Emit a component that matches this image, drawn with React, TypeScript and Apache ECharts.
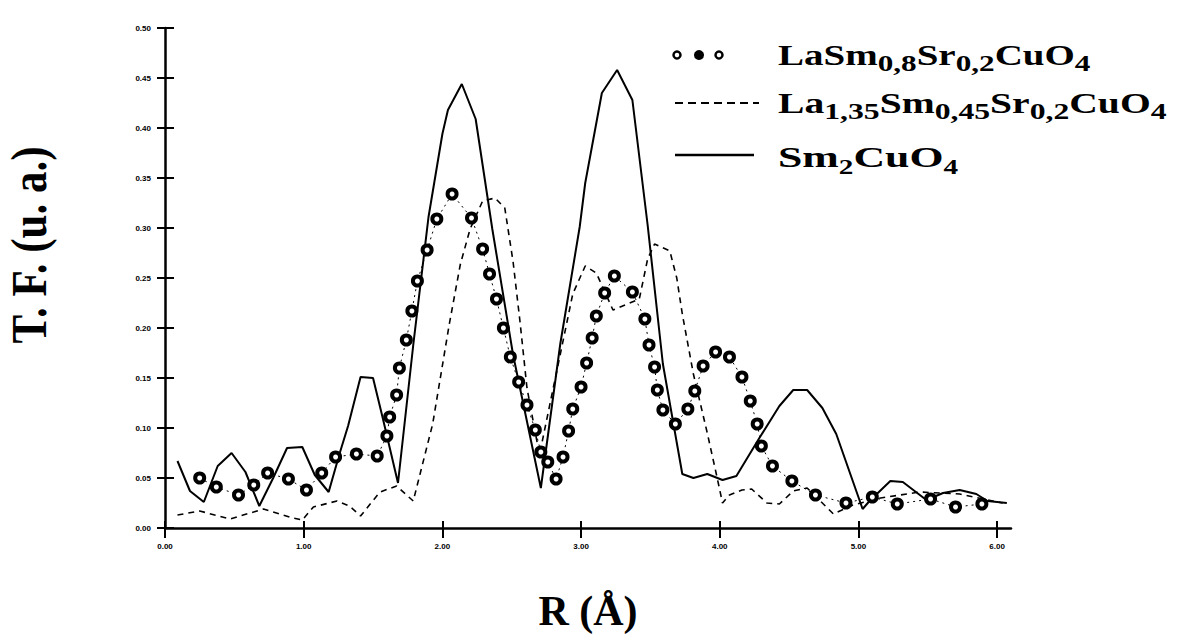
import React, { useEffect, useRef } from "react";
import * as echarts from "echarts";

// ---- Data (R in Å, T.F. in arbitrary units) ----
const sm2R = [0.09, 0.18, 0.28, 0.38, 0.48, 0.58, 0.68, 0.78, 0.88, 0.99, 1.08, 1.18, 1.26, 1.32, 1.41, 1.5, 1.57, 1.68, 1.79, 1.9, 2.0, 2.04, 2.14, 2.24, 2.36, 2.51, 2.71, 2.85, 2.99, 3.03, 3.15, 3.26, 3.37, 3.48, 3.59, 3.73, 3.81, 3.91, 4.02, 4.12, 4.29, 4.43, 4.53, 4.63, 4.74, 4.84, 5.03, 5.08, 5.23, 5.32, 5.49, 5.61, 5.73, 5.85, 5.93, 6.07];
const sm2V = [0.067, 0.037, 0.026, 0.062, 0.075, 0.056, 0.022, 0.05, 0.08, 0.081, 0.053, 0.036, 0.075, 0.102, 0.151, 0.15, 0.11, 0.045, 0.183, 0.311, 0.394, 0.418, 0.444, 0.409, 0.299, 0.173, 0.04, 0.184, 0.301, 0.345, 0.435, 0.458, 0.428, 0.303, 0.164, 0.054, 0.05, 0.054, 0.048, 0.052, 0.091, 0.122, 0.138, 0.138, 0.12, 0.094, 0.019, 0.027, 0.047, 0.046, 0.028, 0.035, 0.038, 0.034, 0.027, 0.025];

const la135R = [0.09, 0.25, 0.47, 0.71, 0.92, 0.99, 1.07, 1.24, 1.33, 1.41, 1.55, 1.67, 1.79, 1.93, 2.05, 2.13, 2.2, 2.29, 2.38, 2.45, 2.51, 2.56, 2.61, 2.7, 2.78, 2.9, 2.94, 3.03, 3.11, 3.23, 3.42, 3.48, 3.53, 3.64, 3.69, 3.73, 3.81, 3.91, 3.98, 4.02, 4.07, 4.16, 4.23, 4.34, 4.43, 4.53, 4.63, 4.82, 4.96, 5.16, 5.44, 5.73, 6.04];
const la135V = [0.013, 0.017, 0.009, 0.019, 0.01, 0.008, 0.021, 0.027, 0.022, 0.012, 0.036, 0.042, 0.027, 0.104, 0.204, 0.264, 0.299, 0.327, 0.33, 0.32, 0.266, 0.206, 0.14, 0.073, 0.127, 0.207, 0.234, 0.262, 0.255, 0.218, 0.229, 0.269, 0.284, 0.277, 0.25, 0.214, 0.154, 0.095, 0.051, 0.025, 0.033, 0.038, 0.039, 0.025, 0.024, 0.037, 0.04, 0.014, 0.023, 0.03, 0.036, 0.034, 0.025];

const laSmR = [0.25, 0.37, 0.53, 0.64, 0.74, 0.89, 1.02, 1.13, 1.23, 1.38, 1.53, 1.6, 1.62, 1.67, 1.69, 1.74, 1.78, 1.82, 1.89, 1.96, 2.07, 2.21, 2.29, 2.34, 2.39, 2.44, 2.49, 2.55, 2.61, 2.67, 2.71, 2.76, 2.82, 2.87, 2.91, 2.94, 3.0, 3.04, 3.08, 3.11, 3.17, 3.24, 3.37, 3.46, 3.49, 3.53, 3.55, 3.59, 3.68, 3.77, 3.82, 3.88, 3.97, 4.07, 4.16, 4.22, 4.27, 4.3, 4.38, 4.52, 4.69, 4.91, 5.1, 5.28, 5.52, 5.7, 5.89];
const laSmV = [0.05, 0.041, 0.033, 0.043, 0.055, 0.049, 0.038, 0.055, 0.071, 0.074, 0.072, 0.092, 0.111, 0.133, 0.16, 0.188, 0.217, 0.247, 0.278, 0.309, 0.334, 0.31, 0.279, 0.254, 0.229, 0.2, 0.171, 0.146, 0.123, 0.098, 0.076, 0.066, 0.049, 0.071, 0.097, 0.119, 0.141, 0.165, 0.19, 0.212, 0.235, 0.252, 0.236, 0.209, 0.183, 0.161, 0.138, 0.118, 0.104, 0.119, 0.137, 0.162, 0.176, 0.171, 0.151, 0.127, 0.104, 0.082, 0.062, 0.047, 0.033, 0.025, 0.031, 0.024, 0.029, 0.021, 0.024];

const xTicks = [0, 1, 2, 3, 4, 5, 6];
const yTicks = [0, 0.05, 0.1, 0.15, 0.2, 0.25, 0.3, 0.35, 0.4, 0.45, 0.5];

const legendNames = ["LaSm0,8Sr0,2CuO4", "La1,35Sm0,45Sr0,2CuO4", "Sm2CuO4"];
const xTitle = "R (Å)";
const yTitle = "T. F. (u. a.)";

const pairs = (xs: number[], ys: number[]) => xs.map((x, i) => [x, ys[i]]);

const SERIF = "'Liberation Serif', 'Times New Roman', serif";
const SANS = "'Liberation Sans', Arial, sans-serif";

const mainStyle = (size: number) => ({ fontFamily: SERIF, fontWeight: "bold", fontSize: size, lineHeight: 40, verticalAlign: "middle", fill: "#000" });
const subStyle = (size: number, h: number) => ({ fontFamily: SERIF, fontWeight: "bold", fontSize: size, lineHeight: h, verticalAlign: "bottom", fill: "#000" });

function buildOption(): any {
  const xMin = xTicks[0];
  const yInt = 0.05;
  return {
    animation: false,
    backgroundColor: "#fff",
    grid: { left: 165, right: 171, top: 28, bottom: 108, containLabel: false },
    xAxis: [
      {
        type: "value",
        min: xMin,
        max: 6.1,
        interval: 1,
        axisLine: { show: true, lineStyle: { color: "#000", width: 2.5 } },
        axisTick: { show: true, length: 10, customValues: xTicks, lineStyle: { color: "#000", width: 2 } },
        axisLabel: {
          show: true,
          customValues: xTicks,
          margin: 14,
          fontSize: 8,
          fontWeight: "bold",
          fontFamily: SANS,
          color: "#000",
          formatter: (v: number) => v.toFixed(2),
        },
        splitLine: { show: false },
      },
      {
        type: "value",
        min: xMin,
        max: 6.1,
        interval: 1,
        position: "bottom",
        axisLine: { show: false },
        axisTick: { show: true, inside: true, length: 7, customValues: xTicks, lineStyle: { color: "#000", width: 2 } },
        axisLabel: { show: false },
        splitLine: { show: false },
      },
    ],
    yAxis: [
      {
        type: "value",
        min: 0,
        max: 0.5,
        interval: yInt,
        axisLine: { show: true, lineStyle: { color: "#000", width: 2.5 } },
        axisTick: { show: true, length: 8, lineStyle: { color: "#000", width: 2 } },
        axisLabel: {
          show: true,
          margin: 14,
          fontSize: 8,
          fontWeight: "bold",
          fontFamily: SANS,
          color: "#000",
          formatter: (v: number) => (yTicks.some((t) => Math.abs(t - v) < 1e-6) ? v.toFixed(2) : ""),
        },
        splitLine: { show: false },
      },
      {
        type: "value",
        min: 0,
        max: 0.5,
        interval: yInt,
        position: "left",
        axisLine: { show: false },
        axisTick: { show: true, inside: true, length: 9, lineStyle: { color: "#000", width: 2 } },
        axisLabel: { show: false },
        splitLine: { show: false },
      },
    ],
    series: [
      {
        name: legendNames[1],
        type: "line",
        data: pairs(la135R, la135V),
        showSymbol: false,
        symbol: "none",
        lineStyle: { color: "#000", width: 1.6, type: [6, 5] },
        z: 2,
      },
      {
        name: legendNames[2],
        type: "line",
        data: pairs(sm2R, sm2V),
        showSymbol: false,
        symbol: "none",
        lineStyle: { color: "#000", width: 2 },
        z: 3,
      },
      {
        name: legendNames[0],
        type: "line",
        data: pairs(laSmR, laSmV),
        symbol: "circle",
        symbolSize: 9,
        showSymbol: true,
        itemStyle: { color: "#fff", borderColor: "#000", borderWidth: 4 },
        lineStyle: { color: "#000", width: 1, type: [2, 4] },
        z: 4,
      },
    ],
    graphic: [
      // y axis title
      {
        type: "text",
        x: 29,
        y: 245,
        rotation: Math.PI / 2,
        scaleX: 0.86,
        style: { text: yTitle, fill: "#000", font: `bold 50px ${SERIF}`, align: "center", verticalAlign: "middle" },
      },
      // x axis title
      {
        type: "text",
        x: 588,
        y: 611,
        style: { text: xTitle, fill: "#000", font: `bold 42px ${SERIF}`, align: "center", verticalAlign: "middle" },
      },
      // legend symbols
      { type: "circle", shape: { cx: 677, cy: 55, r: 3.5 }, style: { fill: "#fff", stroke: "#000", lineWidth: 2.5 } },
      { type: "circle", shape: { cx: 699, cy: 55, r: 3.8 }, style: { fill: "#000", stroke: "#000", lineWidth: 2.5 } },
      { type: "circle", shape: { cx: 719, cy: 55, r: 3.5 }, style: { fill: "#fff", stroke: "#000", lineWidth: 2.5 } },
      { type: "line", shape: { x1: 675, y1: 103, x2: 759, y2: 103 }, style: { stroke: "#000", lineWidth: 2, lineDash: [8, 5] } },
      { type: "line", shape: { x1: 675, y1: 155, x2: 754, y2: 155 }, style: { stroke: "#000", lineWidth: 2.5 } },
      // legend texts
      {
        type: "text",
        x: 778,
        y: 55,
        scaleX: 1.3,
        style: {
          text: "{m|LaSm}{s|0,8}{m|Sr}{s|0,2}{m|CuO}{s|4}",
          align: "left",
          verticalAlign: "middle",
          rich: { m: mainStyle(30), s: subStyle(24, 20) },
        },
      },
      {
        type: "text",
        x: 778,
        y: 103,
        scaleX: 1.32,
        style: {
          text: "{m|La}{s|1,35}{m|Sm}{s|0,45}{m|Sr}{s|0,2}{m|CuO}{s|4}",
          align: "left",
          verticalAlign: "middle",
          rich: { m: mainStyle(30), s: subStyle(24, 20) },
        },
      },
      {
        type: "text",
        x: 778,
        y: 157,
        scaleX: 1.46,
        style: {
          text: "{m|Sm}{s|2}{m|CuO}{s|4}",
          align: "left",
          verticalAlign: "middle",
          rich: { m: mainStyle(30), s: subStyle(20, 24) },
        },
      },
    ],
  };
}

export default function App() {
  const ref = useRef<HTMLDivElement>(null);
  useEffect(() => {
    if (!ref.current) return;
    const chart = echarts.init(ref.current, null, { renderer: "svg" });
    chart.setOption(buildOption());
    return () => chart.dispose();
  }, []);
  return (
    <div
      ref={ref}
      style={{ position: "fixed", left: 0, top: 0, width: 1182, height: 636, background: "#fff" }}
    />
  );
}
